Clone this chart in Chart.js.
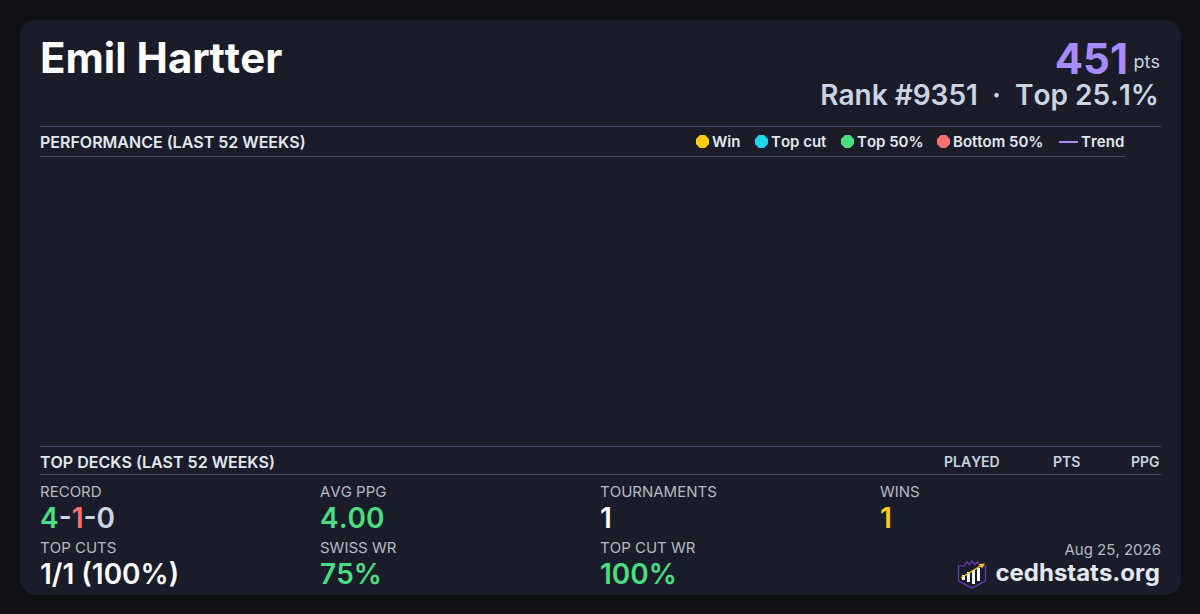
<!DOCTYPE html>
<html>
<head>
<meta charset="utf-8">
<script src="https://cdn.jsdelivr.net/npm/chart.js@4"></script>
<style>
html,body{margin:0;padding:0;width:1200px;height:614px;overflow:hidden;background:#0f1115;font-family:Inter,sans-serif;font-kerning:none}
#card{position:absolute;left:20px;top:20px;width:1161px;height:575px;background:#1a1d29;border-radius:16px}
.t{position:absolute;white-space:nowrap;line-height:1}
.rule{position:absolute;height:1px;background:#3f4c66}
.head{font-size:16px;font-weight:600;color:#e2e8f0}
.cols{font-size:14px;font-weight:600;color:#cbd5e1}
.lab{font-size:15px;font-weight:400;color:#b4bac6}
.val{font-size:28px;font-weight:600;color:#f8fafc}
#legend span.i{position:absolute;top:0;white-space:nowrap;font-size:15px;line-height:1;font-weight:600;color:#e2e8f0}
#legend i{position:absolute;display:block;clip-path:polygon(30% 0,70% 0,100% 30%,100% 70%,70% 100%,30% 100%,0 70%,0 30%)}
#chartBox{position:absolute;left:40px;top:157px;width:1085px;height:289px}
</style>
</head>
<body>
<div id="card"></div>

<div class="t" style="left:40px;top:37px;font-size:42px;font-weight:700;color:#fff" id="name"></div>
<div class="t" style="right:72px;top:38px;font-size:42px;font-weight:700;color:#a78bfa" id="pts"></div>
<div class="t" style="right:40px;top:53px;font-size:18px;font-weight:400;color:#cbd5e1">pts</div>
<div class="t" style="right:41px;top:81px;font-size:28px;font-weight:600;color:#cbd5e1;white-space:pre" id="rank"></div>

<div class="rule" style="left:40px;top:126px;width:1121px"></div>
<div class="t head" style="left:40px;top:134px">PERFORMANCE (LAST 52 WEEKS)</div>
<div id="legend"></div>
<div class="rule" style="left:40px;top:156px;width:1085px"></div>

<div id="chartBox"><canvas id="perfChart"></canvas></div>

<div class="rule" style="left:40px;top:446px;width:1121px"></div>
<div class="t head" style="left:40px;top:454px">TOP DECKS (LAST 52 WEEKS)</div>
<div class="t cols" style="left:944px;top:455px">PLAYED</div>
<div class="t cols" style="left:1053px;top:455px">PTS</div>
<div class="t cols" style="left:1131px;top:455px">PPG</div>
<div class="rule" style="left:40px;top:474px;width:1121px"></div>

<div id="stats"></div>

<div class="t" style="right:39px;top:542px;font-size:15px;color:#b4bac6">Aug 25, 2026</div>
<div class="t" style="right:40px;top:561px;font-size:24px;font-weight:700;color:#e2e8f0">cedhstats.org</div>
<svg style="position:absolute;left:957px;top:559px" width="30" height="30" viewBox="0 0 30 30">
  <path d="M1.5 7 L7 7 L10 3 L12.5 5.5 L15 2 L18 5.5 L20.5 3 L23 7 L28.5 7 L28.5 22 L15 29 L1.5 22 Z" fill="none" stroke="#6d3fc4" stroke-width="1.2"/>
  <rect x="5" y="16" width="3" height="5" fill="#f1f5f9"/>
  <rect x="10" y="13" width="3" height="10" fill="#f1f5f9"/>
  <rect x="15" y="11" width="3" height="14" fill="#f1f5f9"/>
  <rect x="20" y="9" width="3" height="13" fill="#f1f5f9"/>
  <path d="M4 19 L25 6" stroke="#facc15" stroke-width="1.4"/>
  <path d="M28 4.5 L22 5 L25 9.5 Z" fill="#facc15"/>
</svg>

<script>
// header text
var playerName = "Emil Hartter";
var playerPoints = "451";
var rankText = "Rank #9351  ·  Top 25.1%";

// the 52 week chart has nothing in it for this player
var weekLabels = [];
var winValues = [];
var topCutValues = [];
var top50Values = [];
var bottom50Values = [];
var trendValues = [];

var legendNames = ["Win", "Top cut", "Top 50%", "Bottom 50%", "Trend"];
var legendColors = ["#facc15", "#22d3ee", "#4ade80", "#f87171", "#a78bfa"];

var statLabels = ["RECORD", "AVG PPG", "TOURNAMENTS", "WINS", "TOP CUTS", "SWISS WR", "TOP CUT WR"];
var statValues = ["", "4.00", "1", "1", "1/1 (100%)", "75%", "100%"];
var statColors = ["", "#4ade80", "#f8fafc", "#facc15", "#f8fafc", "#4ade80", "#4ade80"];

document.getElementById("name").textContent = playerName;
document.getElementById("pts").textContent = playerPoints;
document.getElementById("rank").textContent = rankText;

// legend row, x positions
var dotX = [696, 755, 841, 937, 1059];
var textX = [712, 771, 857, 953, 1081];
var legendHtml = "";
for(var i=0; i<legendNames.length; i++){
    if(legendNames[i] == "Trend"){
        legendHtml += "<i style=\"left:"+dotX[i]+"px;top:141px;width:19px;height:2px;background:"+legendColors[i]+";clip-path:none\"></i>";
    }else{
        legendHtml += "<i style=\"left:"+dotX[i]+"px;top:135px;width:13px;height:13px;background:"+legendColors[i]+"\"></i>";
    }
    legendHtml += "<span class=\"i\" style=\"left:"+textX[i]+"px;top:134px\">"+legendNames[i]+"</span>";
}
document.getElementById("legend").innerHTML = legendHtml;

// stats block, 4 columns by 2 rows
var colX = [40, 320, 600, 880];
var statsHtml = "";
for(var j=0; j<statLabels.length; j++){
    var x = colX[j % 4];
    var row = Math.floor(j / 4);
    var labTop = row == 0 ? 484 : 540;
    var valTop = row == 0 ? 504 : 560;
    statsHtml += "<div class=\"t lab\" style=\"left:"+x+"px;top:"+labTop+"px\">"+statLabels[j]+"</div>";
    if(j == 0){
        statsHtml += "<div class=\"t val\" style=\"left:"+x+"px;top:"+valTop+"px;color:#cbd5e1\"><span style=\"color:#4ade80\">4</span>-<span style=\"color:#f87171\">1</span>-0</div>";
    }else{
        statsHtml += "<div class=\"t val\" style=\"left:"+x+"px;top:"+valTop+"px;color:"+statColors[j]+"\">"+statValues[j]+"</div>";
    }
}
document.getElementById("stats").innerHTML = statsHtml;

var perfChart = new Chart("perfChart", {
    type: "scatter",
    data: {
        labels: weekLabels,
        datasets: [
            {label: legendNames[0], data: winValues, backgroundColor: legendColors[0]},
            {label: legendNames[1], data: topCutValues, backgroundColor: legendColors[1]},
            {label: legendNames[2], data: top50Values, backgroundColor: legendColors[2]},
            {label: legendNames[3], data: bottom50Values, backgroundColor: legendColors[3]},
            {label: legendNames[4], data: trendValues, type: "line", borderColor: legendColors[4]}
        ]
    },
    options: {
        responsive: true,
        maintainAspectRatio: false,
        animation: false,
        plugins: {legend: {display: false}, tooltip: {enabled: false}},
        scales: {x: {display: false}, y: {display: false}}
    }
});
</script>
</body>
</html>
